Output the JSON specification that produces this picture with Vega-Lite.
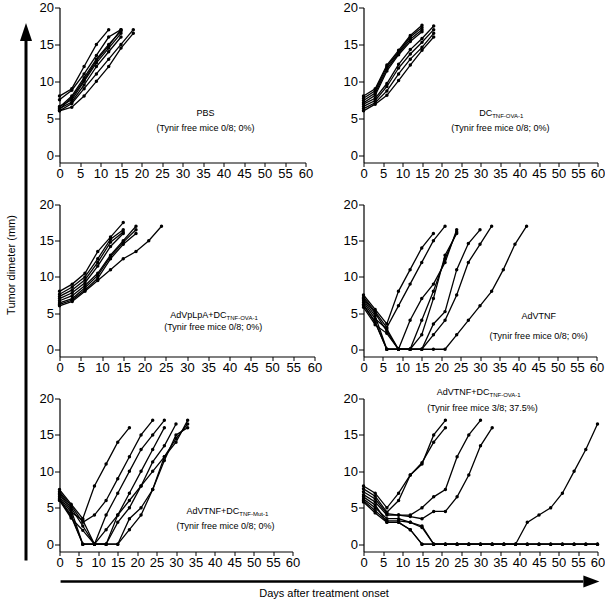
{
"$schema": "https://vega.github.io/schema/vega-lite/v6.json",
"padding": {"left": 5, "top": 1.5, "right": 0, "bottom": 0},
"background": "white",
"config": {
  "font": "Liberation Sans",
  "view": {"stroke": null},
  "axis": {"grid": false, "labelFlush": false, "labelOverlap": false, "domainColor": "black", "tickColor": "black", "labelColor": "black", "labelFont": "Liberation Sans", "labelFontSize": 13, "tickSize": 5, "labelPadding": 1, "domainWidth": 1.2, "tickWidth": 1, "titleColor": "black", "titleFont": "Liberation Sans", "titleFontWeight": "normal", "titleFontSize": 11},
  "axisX": {"tickSize": 4},
  "text": {"font": "Liberation Sans", "color": "black", "fontSize": 9}
},
"datasets": {
"p1": [
{"m":"A","d":0,"s":8.0},{"m":"A","d":3,"s":9.0},{"m":"A","d":6,"s":12.0},{"m":"A","d":9,"s":15.0},{"m":"A","d":12,"s":17.0},
{"m":"B","d":0,"s":7.5},{"m":"B","d":3,"s":8.8},{"m":"B","d":6,"s":11.0},{"m":"B","d":9,"s":13.5},{"m":"B","d":12,"s":16.0},{"m":"B","d":15,"s":17.0},
{"m":"C","d":0,"s":6.5},{"m":"C","d":3,"s":8.0},{"m":"C","d":6,"s":10.5},{"m":"C","d":9,"s":13.0},{"m":"C","d":12,"s":15.0},{"m":"C","d":15,"s":16.8},
{"m":"D","d":0,"s":6.6},{"m":"D","d":3,"s":7.5},{"m":"D","d":6,"s":10.0},{"m":"D","d":9,"s":12.5},{"m":"D","d":12,"s":14.5},{"m":"D","d":15,"s":16.5},
{"m":"E","d":0,"s":6.3},{"m":"E","d":3,"s":7.2},{"m":"E","d":6,"s":9.5},{"m":"E","d":9,"s":12.0},{"m":"E","d":12,"s":14.0},{"m":"E","d":15,"s":16.0},
{"m":"F","d":0,"s":6.0},{"m":"F","d":3,"s":7.0},{"m":"F","d":6,"s":9.0},{"m":"F","d":9,"s":11.0},{"m":"F","d":12,"s":13.0},{"m":"F","d":15,"s":15.0},{"m":"F","d":18,"s":17.0},
{"m":"G","d":0,"s":6.0},{"m":"G","d":3,"s":6.5},{"m":"G","d":6,"s":8.0},{"m":"G","d":9,"s":10.0},{"m":"G","d":12,"s":12.0},{"m":"G","d":15,"s":14.5},{"m":"G","d":18,"s":16.5},
{"m":"H","d":0,"s":6.2},{"m":"H","d":3,"s":7.8},{"m":"H","d":6,"s":10.2},{"m":"H","d":9,"s":12.8},{"m":"H","d":12,"s":14.8},{"m":"H","d":15,"s":17.0}
],
"p2": [
{"m":"U1","d":0,"s":8.0},{"m":"U1","d":3,"s":9.0},{"m":"U1","d":6,"s":12.2},{"m":"U1","d":9,"s":14.2},{"m":"U1","d":12,"s":16.2},{"m":"U1","d":15,"s":17.6},
{"m":"U2","d":0,"s":7.7},{"m":"U2","d":3,"s":8.7},{"m":"U2","d":6,"s":12.0},{"m":"U2","d":9,"s":14.0},{"m":"U2","d":12,"s":16.0},{"m":"U2","d":15,"s":17.3},
{"m":"U3","d":0,"s":7.4},{"m":"U3","d":3,"s":8.4},{"m":"U3","d":6,"s":11.7},{"m":"U3","d":9,"s":13.8},{"m":"U3","d":12,"s":15.7},{"m":"U3","d":15,"s":17.0},
{"m":"U4","d":0,"s":7.1},{"m":"U4","d":3,"s":8.1},{"m":"U4","d":6,"s":11.4},{"m":"U4","d":9,"s":13.6},{"m":"U4","d":12,"s":15.4},{"m":"U4","d":15,"s":16.7},
{"m":"L1","d":0,"s":6.9},{"m":"L1","d":3,"s":7.7},{"m":"L1","d":6,"s":9.7},{"m":"L1","d":9,"s":12.3},{"m":"L1","d":12,"s":14.3},{"m":"L1","d":15,"s":15.8},{"m":"L1","d":18,"s":17.5},
{"m":"L2","d":0,"s":6.6},{"m":"L2","d":3,"s":7.4},{"m":"L2","d":6,"s":9.3},{"m":"L2","d":9,"s":11.8},{"m":"L2","d":12,"s":13.7},{"m":"L2","d":15,"s":15.3},{"m":"L2","d":18,"s":17.0},
{"m":"L3","d":0,"s":6.3},{"m":"L3","d":3,"s":7.1},{"m":"L3","d":6,"s":8.7},{"m":"L3","d":9,"s":11.0},{"m":"L3","d":12,"s":13.0},{"m":"L3","d":15,"s":14.6},{"m":"L3","d":18,"s":16.5},
{"m":"L4","d":0,"s":6.0},{"m":"L4","d":3,"s":6.9},{"m":"L4","d":6,"s":8.1},{"m":"L4","d":9,"s":10.1},{"m":"L4","d":12,"s":12.2},{"m":"L4","d":15,"s":14.2},{"m":"L4","d":18,"s":16.0}
],
"p3": [
{"m":"A","d":0,"s":8.0},{"m":"A","d":3,"s":9.0},{"m":"A","d":6,"s":10.5},{"m":"A","d":9,"s":13.5},{"m":"A","d":12,"s":15.5},{"m":"A","d":15,"s":17.5},
{"m":"B","d":0,"s":7.6},{"m":"B","d":3,"s":8.6},{"m":"B","d":6,"s":10.0},{"m":"B","d":9,"s":12.5},{"m":"B","d":12,"s":15.2},{"m":"B","d":15,"s":16.5},
{"m":"C","d":0,"s":7.3},{"m":"C","d":3,"s":8.2},{"m":"C","d":6,"s":9.6},{"m":"C","d":9,"s":12.0},{"m":"C","d":12,"s":14.8},{"m":"C","d":15,"s":16.2},
{"m":"D","d":0,"s":7.0},{"m":"D","d":3,"s":7.8},{"m":"D","d":6,"s":9.2},{"m":"D","d":9,"s":11.5},{"m":"D","d":12,"s":14.2},{"m":"D","d":15,"s":16.0},
{"m":"E","d":0,"s":6.7},{"m":"E","d":3,"s":7.4},{"m":"E","d":6,"s":8.8},{"m":"E","d":9,"s":10.5},{"m":"E","d":12,"s":13.0},{"m":"E","d":15,"s":15.0},{"m":"E","d":18,"s":17.0},
{"m":"F","d":0,"s":6.4},{"m":"F","d":3,"s":7.0},{"m":"F","d":6,"s":8.5},{"m":"F","d":9,"s":10.2},{"m":"F","d":12,"s":12.8},{"m":"F","d":15,"s":14.8},{"m":"F","d":18,"s":16.5},
{"m":"G","d":0,"s":6.2},{"m":"G","d":3,"s":6.8},{"m":"G","d":6,"s":8.2},{"m":"G","d":9,"s":9.8},{"m":"G","d":12,"s":12.5},{"m":"G","d":15,"s":14.5},{"m":"G","d":18,"s":16.0},
{"m":"H","d":0,"s":6.0},{"m":"H","d":3,"s":6.6},{"m":"H","d":6,"s":8.0},{"m":"H","d":9,"s":9.5},{"m":"H","d":12,"s":11.0},{"m":"H","d":15,"s":12.5},{"m":"H","d":18,"s":13.5},{"m":"H","d":21,"s":15.0},{"m":"H","d":24,"s":17.0}
],
"p4": [
{"m":"L1","d":0,"s":7.5},{"m":"L1","d":3,"s":5.5},{"m":"L1","d":6,"s":3.5},{"m":"L1","d":9,"s":8.0},{"m":"L1","d":12,"s":11.0},{"m":"L1","d":15,"s":14.0},{"m":"L1","d":18,"s":16.0},
{"m":"L2","d":0,"s":7.2},{"m":"L2","d":3,"s":5.2},{"m":"L2","d":6,"s":3.0},{"m":"L2","d":9,"s":6.0},{"m":"L2","d":12,"s":9.0},{"m":"L2","d":15,"s":12.0},{"m":"L2","d":18,"s":15.0},{"m":"L2","d":21,"s":17.0},
{"m":"L3","d":0,"s":7.0},{"m":"L3","d":3,"s":5.0},{"m":"L3","d":6,"s":2.5},{"m":"L3","d":9,"s":0},{"m":"L3","d":12,"s":4.0},{"m":"L3","d":15,"s":7.0},{"m":"L3","d":18,"s":9.0},{"m":"L3","d":21,"s":12.0},{"m":"L3","d":24,"s":16.5},
{"m":"L4","d":0,"s":6.8},{"m":"L4","d":3,"s":4.6},{"m":"L4","d":6,"s":0},{"m":"L4","d":9,"s":0},{"m":"L4","d":12,"s":0},{"m":"L4","d":15,"s":4.0},{"m":"L4","d":18,"s":8.0},{"m":"L4","d":21,"s":12.5},{"m":"L4","d":24,"s":16.2},
{"m":"L5","d":0,"s":6.5},{"m":"L5","d":3,"s":4.2},{"m":"L5","d":6,"s":2.8},{"m":"L5","d":9,"s":0},{"m":"L5","d":12,"s":0},{"m":"L5","d":15,"s":2.0},{"m":"L5","d":18,"s":7.0},{"m":"L5","d":21,"s":13.0},{"m":"L5","d":24,"s":16.0},
{"m":"L6","d":0,"s":6.2},{"m":"L6","d":3,"s":3.8},{"m":"L6","d":6,"s":0},{"m":"L6","d":9,"s":0},{"m":"L6","d":12,"s":0},{"m":"L6","d":15,"s":0},{"m":"L6","d":18,"s":3.5},{"m":"L6","d":21,"s":5.2},{"m":"L6","d":24,"s":11.0},{"m":"L6","d":27,"s":14.6},{"m":"L6","d":30,"s":16.5},
{"m":"L7","d":0,"s":5.8},{"m":"L7","d":3,"s":3.4},{"m":"L7","d":6,"s":2.2},{"m":"L7","d":9,"s":0},{"m":"L7","d":12,"s":0},{"m":"L7","d":15,"s":0},{"m":"L7","d":18,"s":2.0},{"m":"L7","d":21,"s":4.0},{"m":"L7","d":24,"s":7.5},{"m":"L7","d":27,"s":12.0},{"m":"L7","d":30,"s":14.5},{"m":"L7","d":33,"s":17.0},
{"m":"L8","d":0,"s":6.1},{"m":"L8","d":3,"s":3.7},{"m":"L8","d":6,"s":0},{"m":"L8","d":9,"s":0},{"m":"L8","d":12,"s":0},{"m":"L8","d":15,"s":0},{"m":"L8","d":18,"s":0},{"m":"L8","d":21,"s":0},{"m":"L8","d":24,"s":2.0},{"m":"L8","d":27,"s":4.0},{"m":"L8","d":30,"s":6.0},{"m":"L8","d":33,"s":8.0},{"m":"L8","d":36,"s":11.0},{"m":"L8","d":39,"s":14.5},{"m":"L8","d":42,"s":17.0}
],
"p5": [
{"m":"M1","d":0,"s":7.5},{"m":"M1","d":3,"s":5.5},{"m":"M1","d":6,"s":3.5},{"m":"M1","d":9,"s":8.0},{"m":"M1","d":12,"s":11.0},{"m":"M1","d":15,"s":14.0},{"m":"M1","d":18,"s":16.0},
{"m":"M2","d":0,"s":7.2},{"m":"M2","d":3,"s":5.3},{"m":"M2","d":6,"s":3.0},{"m":"M2","d":9,"s":4.0},{"m":"M2","d":12,"s":6.0},{"m":"M2","d":15,"s":9.0},{"m":"M2","d":18,"s":12.0},{"m":"M2","d":21,"s":15.0},{"m":"M2","d":24,"s":17.0},
{"m":"M3","d":0,"s":7.0},{"m":"M3","d":3,"s":5.0},{"m":"M3","d":6,"s":2.5},{"m":"M3","d":9,"s":0},{"m":"M3","d":12,"s":4.0},{"m":"M3","d":15,"s":7.0},{"m":"M3","d":18,"s":10.0},{"m":"M3","d":21,"s":13.0},{"m":"M3","d":24,"s":15.0},{"m":"M3","d":27,"s":17.0},
{"m":"M4","d":0,"s":6.8},{"m":"M4","d":3,"s":4.7},{"m":"M4","d":6,"s":0},{"m":"M4","d":9,"s":0},{"m":"M4","d":12,"s":2.0},{"m":"M4","d":15,"s":4.0},{"m":"M4","d":18,"s":7.0},{"m":"M4","d":21,"s":10.0},{"m":"M4","d":24,"s":13.0},{"m":"M4","d":27,"s":16.0},
{"m":"M5","d":0,"s":6.5},{"m":"M5","d":3,"s":4.4},{"m":"M5","d":6,"s":3.3},{"m":"M5","d":9,"s":0},{"m":"M5","d":12,"s":0},{"m":"M5","d":15,"s":4.0},{"m":"M5","d":18,"s":6.0},{"m":"M5","d":21,"s":8.0},{"m":"M5","d":24,"s":11.3},{"m":"M5","d":27,"s":13.5},{"m":"M5","d":30,"s":16.5},
{"m":"M6","d":0,"s":6.3},{"m":"M6","d":3,"s":4.0},{"m":"M6","d":6,"s":0},{"m":"M6","d":9,"s":0},{"m":"M6","d":12,"s":0},{"m":"M6","d":15,"s":3.0},{"m":"M6","d":18,"s":5.0},{"m":"M6","d":21,"s":8.0},{"m":"M6","d":24,"s":10.0},{"m":"M6","d":27,"s":12.0},{"m":"M6","d":30,"s":14.0},{"m":"M6","d":33,"s":17.0},
{"m":"M7","d":0,"s":6.1},{"m":"M7","d":3,"s":3.8},{"m":"M7","d":6,"s":0},{"m":"M7","d":9,"s":0},{"m":"M7","d":12,"s":0},{"m":"M7","d":15,"s":0},{"m":"M7","d":18,"s":3.5},{"m":"M7","d":21,"s":5.0},{"m":"M7","d":24,"s":7.5},{"m":"M7","d":27,"s":12.0},{"m":"M7","d":30,"s":14.5},{"m":"M7","d":33,"s":16.5},
{"m":"M8","d":0,"s":6.0},{"m":"M8","d":3,"s":3.6},{"m":"M8","d":6,"s":1.9},{"m":"M8","d":9,"s":0},{"m":"M8","d":12,"s":0},{"m":"M8","d":15,"s":0},{"m":"M8","d":18,"s":2.0},{"m":"M8","d":21,"s":4.0},{"m":"M8","d":24,"s":7.5},{"m":"M8","d":27,"s":11.5},{"m":"M8","d":30,"s":15.0},{"m":"M8","d":33,"s":16.0}
],
"p6": [
{"m":"N1","d":0,"s":8.0},{"m":"N1","d":3,"s":7.0},{"m":"N1","d":6,"s":5.0},{"m":"N1","d":9,"s":7.0},{"m":"N1","d":12,"s":9.5},{"m":"N1","d":15,"s":11.0},{"m":"N1","d":18,"s":15.0},{"m":"N1","d":21,"s":17.0},
{"m":"N2","d":0,"s":7.6},{"m":"N2","d":3,"s":6.6},{"m":"N2","d":6,"s":4.4},{"m":"N2","d":9,"s":6.0},{"m":"N2","d":12,"s":9.5},{"m":"N2","d":15,"s":11.2},{"m":"N2","d":18,"s":14.0},{"m":"N2","d":21,"s":16.0},
{"m":"N3","d":0,"s":7.2},{"m":"N3","d":3,"s":6.2},{"m":"N3","d":6,"s":4.2},{"m":"N3","d":9,"s":4.0},{"m":"N3","d":12,"s":4.0},{"m":"N3","d":15,"s":5.0},{"m":"N3","d":18,"s":6.5},{"m":"N3","d":21,"s":7.5},{"m":"N3","d":24,"s":12.0},{"m":"N3","d":27,"s":15.0},{"m":"N3","d":30,"s":17.0},
{"m":"N4","d":0,"s":6.8},{"m":"N4","d":3,"s":5.8},{"m":"N4","d":6,"s":4.0},{"m":"N4","d":9,"s":4.0},{"m":"N4","d":12,"s":3.8},{"m":"N4","d":15,"s":3.5},{"m":"N4","d":18,"s":4.5},{"m":"N4","d":21,"s":4.5},{"m":"N4","d":24,"s":6.5},{"m":"N4","d":27,"s":9.5},{"m":"N4","d":30,"s":13.5},{"m":"N4","d":33,"s":16.0},
{"m":"N5","d":0,"s":6.5},{"m":"N5","d":3,"s":5.4},{"m":"N5","d":6,"s":3.0},{"m":"N5","d":9,"s":3.0},{"m":"N5","d":12,"s":2.0},{"m":"N5","d":15,"s":0},{"m":"N5","d":18,"s":0},{"m":"N5","d":21,"s":0},{"m":"N5","d":24,"s":0},{"m":"N5","d":27,"s":0},{"m":"N5","d":30,"s":0},{"m":"N5","d":33,"s":0},{"m":"N5","d":36,"s":0},{"m":"N5","d":39,"s":0},{"m":"N5","d":42,"s":3.0},{"m":"N5","d":45,"s":4.0},{"m":"N5","d":48,"s":5.0},{"m":"N5","d":51,"s":7.0},{"m":"N5","d":54,"s":10.0},{"m":"N5","d":57,"s":13.0},{"m":"N5","d":60,"s":16.5},
{"m":"N6","d":0,"s":6.2},{"m":"N6","d":3,"s":5.0},{"m":"N6","d":6,"s":3.5},{"m":"N6","d":9,"s":3.5},{"m":"N6","d":12,"s":3.0},{"m":"N6","d":15,"s":2.5},{"m":"N6","d":18,"s":0},{"m":"N6","d":21,"s":0},{"m":"N6","d":24,"s":0},{"m":"N6","d":27,"s":0},{"m":"N6","d":30,"s":0},{"m":"N6","d":33,"s":0},{"m":"N6","d":36,"s":0},{"m":"N6","d":39,"s":0},{"m":"N6","d":42,"s":0},{"m":"N6","d":45,"s":0},{"m":"N6","d":48,"s":0},{"m":"N6","d":51,"s":0},{"m":"N6","d":54,"s":0},{"m":"N6","d":57,"s":0},{"m":"N6","d":60,"s":0},
{"m":"N7","d":0,"s":6.0},{"m":"N7","d":3,"s":4.6},{"m":"N7","d":6,"s":3.2},{"m":"N7","d":9,"s":3.2},{"m":"N7","d":12,"s":3.0},{"m":"N7","d":15,"s":2.3},{"m":"N7","d":18,"s":0},{"m":"N7","d":21,"s":0},{"m":"N7","d":24,"s":0},{"m":"N7","d":27,"s":0},{"m":"N7","d":30,"s":0},{"m":"N7","d":33,"s":0},{"m":"N7","d":36,"s":0},{"m":"N7","d":39,"s":0},{"m":"N7","d":42,"s":0},{"m":"N7","d":45,"s":0},{"m":"N7","d":48,"s":0},{"m":"N7","d":51,"s":0},{"m":"N7","d":54,"s":0},{"m":"N7","d":57,"s":0},{"m":"N7","d":60,"s":0},
{"m":"N8","d":0,"s":5.8},{"m":"N8","d":3,"s":4.3},{"m":"N8","d":6,"s":3.0},{"m":"N8","d":9,"s":3.0},{"m":"N8","d":12,"s":2.0},{"m":"N8","d":15,"s":0},{"m":"N8","d":18,"s":0},{"m":"N8","d":21,"s":0},{"m":"N8","d":24,"s":0},{"m":"N8","d":27,"s":0},{"m":"N8","d":30,"s":0},{"m":"N8","d":33,"s":0},{"m":"N8","d":36,"s":0},{"m":"N8","d":39,"s":0},{"m":"N8","d":42,"s":0},{"m":"N8","d":45,"s":0},{"m":"N8","d":48,"s":0},{"m":"N8","d":51,"s":0},{"m":"N8","d":54,"s":0},{"m":"N8","d":57,"s":0},{"m":"N8","d":60,"s":0}
]
},
"hconcat": [
{
 "width": 12, "height": 553,
 "data": {"values": [{}]},
 "layer": [
  {"mark": {"type": "rule", "strokeWidth": 3, "color": "black"},
   "encoding": {
    "x": {"datum": 0.5, "type": "quantitative", "scale": {"domain": [0, 1]}, "axis": null},
    "y": {"datum": 0, "type": "quantitative", "scale": {"domain": [0, 1]}, "axis": {"title": "Tumor dimeter (mm)", "domain": false, "ticks": false, "labels": false, "titlePadding": 4, "titleY": 257}},
    "y2": {"datum": 0.9394}}},
  {"mark": {"type": "point", "shape": "M0,-1L-0.67,1L0.67,1Z", "filled": true, "color": "black", "size": 324, "opacity": 1},
   "encoding": {"x": {"datum": 0.5, "type": "quantitative", "axis": null}, "y": {"datum": 0.9557, "type": "quantitative", "axis": {"title": "Tumor dimeter (mm)", "domain": false, "ticks": false, "labels": false, "titlePadding": 4, "titleY": 257}}}}
 ]
},
{
 "vconcat": [
  {
   "concat": [
      {"width": 246, "height": 155,
       "layer": [
        {"data": {"name": "p1"}, "mark": {"type": "line", "color": "black", "strokeWidth": 1.3},
         "encoding": {"x": {"field": "d", "type": "quantitative", "scale": {"domain": [0, 60], "nice": false}, "axis": {"values": [0,5,10,15,20,25,30,35,40,45,50,55,60], "title": null}},
                      "y": {"field": "s", "type": "quantitative", "scale": {"domain": [-1, 20], "nice": false}, "axis": {"values": [0,5,10,15,20], "title": null}},
                      "detail": {"field": "m", "type": "nominal"}}},
        {"data": {"name": "p1"}, "mark": {"type": "circle", "color": "black", "size": 12, "opacity": 1},
         "encoding": {"x": {"field": "d", "type": "quantitative", "axis": {"values": [0,5,10,15,20,25,30,35,40,45,50,55,60], "title": null}}, "y": {"field": "s", "type": "quantitative", "axis": {"values": [0,5,10,15,20], "title": null}}}},
        {"data": {"values": [{"t": "PBS"}]}, "mark": {"type": "text"},
         "encoding": {"x": {"datum": 35.6, "type": "quantitative", "axis": {"values": [0,5,10,15,20,25,30,35,40,45,50,55,60], "title": null}}, "y": {"datum": 5.77, "type": "quantitative", "axis": {"values": [0,5,10,15,20], "title": null}}, "text": {"field": "t", "type": "nominal"}}},
        {"data": {"values": [{"t": "(Tynir free mice 0/8; 0%)"}]}, "mark": {"type": "text"},
         "encoding": {"x": {"datum": 35.6, "type": "quantitative", "axis": {"values": [0,5,10,15,20,25,30,35,40,45,50,55,60], "title": null}}, "y": {"datum": 3.74, "type": "quantitative", "axis": {"values": [0,5,10,15,20], "title": null}}, "text": {"field": "t", "type": "nominal"}}}
       ]},
      {"width": 234, "height": 155,
       "layer": [
        {"data": {"name": "p2"}, "mark": {"type": "line", "color": "black", "strokeWidth": 1.3},
         "encoding": {"x": {"field": "d", "type": "quantitative", "scale": {"domain": [0, 60], "nice": false}, "axis": {"values": [0,5,10,15,20,25,30,35,40,45,50,55,60], "title": null}},
                      "y": {"field": "s", "type": "quantitative", "scale": {"domain": [-1, 20], "nice": false}, "axis": {"values": [0,5,10,15,20], "title": null}},
                      "detail": {"field": "m", "type": "nominal"}}},
        {"data": {"name": "p2"}, "mark": {"type": "circle", "color": "black", "size": 12, "opacity": 1},
         "encoding": {"x": {"field": "d", "type": "quantitative", "axis": {"values": [0,5,10,15,20,25,30,35,40,45,50,55,60], "title": null}}, "y": {"field": "s", "type": "quantitative", "axis": {"values": [0,5,10,15,20], "title": null}}}},
        {"data": {"values": [{"t": "DC"}]}, "mark": {"type": "text", "align": "right"},
         "encoding": {"x": {"datum": 33.0, "type": "quantitative", "axis": {"values": [0,5,10,15,20,25,30,35,40,45,50,55,60], "title": null}}, "y": {"datum": 5.64, "type": "quantitative", "axis": {"values": [0,5,10,15,20], "title": null}}, "text": {"field": "t", "type": "nominal"}}},
        {"data": {"values": [{"t": "TNF-OVA-1"}]}, "mark": {"type": "text", "align": "left", "fontSize": 6, "dy": 3},
         "encoding": {"x": {"datum": 33.0, "type": "quantitative", "axis": {"values": [0,5,10,15,20,25,30,35,40,45,50,55,60], "title": null}}, "y": {"datum": 5.64, "type": "quantitative", "axis": {"values": [0,5,10,15,20], "title": null}}, "text": {"field": "t", "type": "nominal"}}},
        {"data": {"values": [{"t": "(Tynir free mice 0/8; 0%)"}]}, "mark": {"type": "text"},
         "encoding": {"x": {"datum": 35.1, "type": "quantitative", "axis": {"values": [0,5,10,15,20,25,30,35,40,45,50,55,60], "title": null}}, "y": {"datum": 3.74, "type": "quantitative", "axis": {"values": [0,5,10,15,20], "title": null}}, "text": {"field": "t", "type": "nominal"}}}
       ]},
      {"width": 255, "height": 152,
       "layer": [
        {"data": {"name": "p3"}, "mark": {"type": "line", "color": "black", "strokeWidth": 1.3},
         "encoding": {"x": {"field": "d", "type": "quantitative", "scale": {"domain": [0, 60], "nice": false}, "axis": {"values": [0,5,10,15,20,25,30,35,40,45,50,55,60], "title": null}},
                      "y": {"field": "s", "type": "quantitative", "scale": {"domain": [-1, 20], "nice": false}, "axis": {"values": [0,5,10,15,20], "title": null}},
                      "detail": {"field": "m", "type": "nominal"}}},
        {"data": {"name": "p3"}, "mark": {"type": "circle", "color": "black", "size": 12, "opacity": 1},
         "encoding": {"x": {"field": "d", "type": "quantitative", "axis": {"values": [0,5,10,15,20,25,30,35,40,45,50,55,60], "title": null}}, "y": {"field": "s", "type": "quantitative", "axis": {"values": [0,5,10,15,20], "title": null}}}},
        {"data": {"values": [{"t": "AdVpLpA+DC"}]}, "mark": {"type": "text", "align": "right"},
         "encoding": {"x": {"datum": 39.3, "type": "quantitative", "axis": {"values": [0,5,10,15,20,25,30,35,40,45,50,55,60], "title": null}}, "y": {"datum": 4.8, "type": "quantitative", "axis": {"values": [0,5,10,15,20], "title": null}}, "text": {"field": "t", "type": "nominal"}}},
        {"data": {"values": [{"t": "TNF-OVA-1"}]}, "mark": {"type": "text", "align": "left", "fontSize": 6, "dy": 3},
         "encoding": {"x": {"datum": 39.3, "type": "quantitative", "axis": {"values": [0,5,10,15,20,25,30,35,40,45,50,55,60], "title": null}}, "y": {"datum": 4.8, "type": "quantitative", "axis": {"values": [0,5,10,15,20], "title": null}}, "text": {"field": "t", "type": "nominal"}}},
        {"data": {"values": [{"t": "(Tynir free mice 0/8; 0%)"}]}, "mark": {"type": "text"},
         "encoding": {"x": {"datum": 36.2, "type": "quantitative", "axis": {"values": [0,5,10,15,20,25,30,35,40,45,50,55,60], "title": null}}, "y": {"datum": 3.1, "type": "quantitative", "axis": {"values": [0,5,10,15,20], "title": null}}, "text": {"field": "t", "type": "nominal"}}}
       ]},
      {"width": 233, "height": 152,
       "layer": [
        {"data": {"name": "p4"}, "mark": {"type": "line", "color": "black", "strokeWidth": 1.3},
         "encoding": {"x": {"field": "d", "type": "quantitative", "scale": {"domain": [0, 60], "nice": false}, "axis": {"values": [0,5,10,15,20,25,30,35,40,45,50,55,60], "title": null}},
                      "y": {"field": "s", "type": "quantitative", "scale": {"domain": [-1, 20], "nice": false}, "axis": {"values": [0,5,10,15,20], "title": null}},
                      "detail": {"field": "m", "type": "nominal"}}},
        {"data": {"name": "p4"}, "mark": {"type": "circle", "color": "black", "size": 12, "opacity": 1},
         "encoding": {"x": {"field": "d", "type": "quantitative", "axis": {"values": [0,5,10,15,20,25,30,35,40,45,50,55,60], "title": null}}, "y": {"field": "s", "type": "quantitative", "axis": {"values": [0,5,10,15,20], "title": null}}}},
        {"data": {"values": [{"t": "AdVTNF"}]}, "mark": {"type": "text"},
         "encoding": {"x": {"datum": 45.1, "type": "quantitative", "axis": {"values": [0,5,10,15,20,25,30,35,40,45,50,55,60], "title": null}}, "y": {"datum": 4.53, "type": "quantitative", "axis": {"values": [0,5,10,15,20], "title": null}}, "text": {"field": "t", "type": "nominal"}}},
        {"data": {"values": [{"t": "(Tynir free mice 0/8; 0%)"}]}, "mark": {"type": "text"},
         "encoding": {"x": {"datum": 45.1, "type": "quantitative", "axis": {"values": [0,5,10,15,20,25,30,35,40,45,50,55,60], "title": null}}, "y": {"datum": 1.9, "type": "quantitative", "axis": {"values": [0,5,10,15,20], "title": null}}, "text": {"field": "t", "type": "nominal"}}}
       ]},
      {"width": 233, "height": 153,
       "layer": [
        {"data": {"name": "p5"}, "mark": {"type": "line", "color": "black", "strokeWidth": 1.3},
         "encoding": {"x": {"field": "d", "type": "quantitative", "scale": {"domain": [0, 60], "nice": false}, "axis": {"values": [0,5,10,15,20,25,30,35,40,45,50,55,60], "title": null}},
                      "y": {"field": "s", "type": "quantitative", "scale": {"domain": [-1, 20], "nice": false}, "axis": {"values": [0,5,10,15,20], "title": null}},
                      "detail": {"field": "m", "type": "nominal"}}},
        {"data": {"name": "p5"}, "mark": {"type": "circle", "color": "black", "size": 12, "opacity": 1},
         "encoding": {"x": {"field": "d", "type": "quantitative", "axis": {"values": [0,5,10,15,20,25,30,35,40,45,50,55,60], "title": null}}, "y": {"field": "s", "type": "quantitative", "axis": {"values": [0,5,10,15,20], "title": null}}}},
        {"data": {"values": [{"t": "AdVTNF+DC"}]}, "mark": {"type": "text", "align": "right"},
         "encoding": {"x": {"datum": 46.3, "type": "quantitative", "axis": {"values": [0,5,10,15,20,25,30,35,40,45,50,55,60], "title": null}}, "y": {"datum": 4.53, "type": "quantitative", "axis": {"values": [0,5,10,15,20], "title": null}}, "text": {"field": "t", "type": "nominal"}}},
        {"data": {"values": [{"t": "TNF-Mut-1"}]}, "mark": {"type": "text", "align": "left", "fontSize": 6, "dy": 3},
         "encoding": {"x": {"datum": 46.3, "type": "quantitative", "axis": {"values": [0,5,10,15,20,25,30,35,40,45,50,55,60], "title": null}}, "y": {"datum": 4.53, "type": "quantitative", "axis": {"values": [0,5,10,15,20], "title": null}}, "text": {"field": "t", "type": "nominal"}}},
        {"data": {"values": [{"t": "(Tynir free mice 0/8; 0%)"}]}, "mark": {"type": "text"},
         "encoding": {"x": {"datum": 42.75, "type": "quantitative", "axis": {"values": [0,5,10,15,20,25,30,35,40,45,50,55,60], "title": null}}, "y": {"datum": 2.47, "type": "quantitative", "axis": {"values": [0,5,10,15,20], "title": null}}, "text": {"field": "t", "type": "nominal"}}}
       ]},
      {"width": 234, "height": 153,
       "layer": [
        {"data": {"name": "p6"}, "mark": {"type": "line", "color": "black", "strokeWidth": 1.3},
         "encoding": {"x": {"field": "d", "type": "quantitative", "scale": {"domain": [0, 60], "nice": false}, "axis": {"values": [0,5,10,15,20,25,30,35,40,45,50,55,60], "title": null}},
                      "y": {"field": "s", "type": "quantitative", "scale": {"domain": [-1, 20], "nice": false}, "axis": {"values": [0,5,10,15,20], "title": null}},
                      "detail": {"field": "m", "type": "nominal"}}},
        {"data": {"name": "p6"}, "mark": {"type": "circle", "color": "black", "size": 12, "opacity": 1},
         "encoding": {"x": {"field": "d", "type": "quantitative", "axis": {"values": [0,5,10,15,20,25,30,35,40,45,50,55,60], "title": null}}, "y": {"field": "s", "type": "quantitative", "axis": {"values": [0,5,10,15,20], "title": null}}}},
        {"data": {"values": [{"t": "AdVTNF+DC"}]}, "mark": {"type": "text", "align": "right"},
         "encoding": {"x": {"datum": 32.3, "type": "quantitative", "axis": {"values": [0,5,10,15,20,25,30,35,40,45,50,55,60], "title": null}}, "y": {"datum": 20.92, "type": "quantitative", "axis": {"values": [0,5,10,15,20], "title": null}}, "text": {"field": "t", "type": "nominal"}}},
        {"data": {"values": [{"t": "TNF-OVA-1"}]}, "mark": {"type": "text", "align": "left", "fontSize": 6, "dy": 3},
         "encoding": {"x": {"datum": 32.3, "type": "quantitative", "axis": {"values": [0,5,10,15,20,25,30,35,40,45,50,55,60], "title": null}}, "y": {"datum": 20.92, "type": "quantitative", "axis": {"values": [0,5,10,15,20], "title": null}}, "text": {"field": "t", "type": "nominal"}}},
        {"data": {"values": [{"t": "(Tynir free mice 3/8; 37.5%)"}]}, "mark": {"type": "text"},
         "encoding": {"x": {"datum": 30.5, "type": "quantitative", "axis": {"values": [0,5,10,15,20,25,30,35,40,45,50,55,60], "title": null}}, "y": {"datum": 18.72, "type": "quantitative", "axis": {"values": [0,5,10,15,20], "title": null}}, "text": {"field": "t", "type": "nominal"}}}
       ]}
   ],
   "columns": 2, "align": "each", "bounds": "flush", "spacing": {"row": 42, "column": 49}
  },
  {
   "width": 540, "height": 1,
   "data": {"values": [{}]},
   "layer": [
    {"mark": {"type": "rule", "strokeWidth": 2.5, "color": "black"},
     "encoding": {
      "x": {"datum": 0.002, "type": "quantitative", "scale": {"domain": [0, 1]}, "axis": {"title": "Days after treatment onset", "domain": false, "ticks": false, "labels": false, "titlePadding": 6, "titleX": 264}},
      "x2": {"datum": 0.97},
      "y": {"datum": 0, "type": "quantitative", "scale": {"domain": [0, 1]}, "axis": null}}},
    {"mark": {"type": "point", "shape": "M1,0L-1,-0.75L-1,0.75Z", "filled": true, "color": "black", "size": 256, "opacity": 1},
     "encoding": {"x": {"datum": 0.985, "type": "quantitative", "axis": {"title": "Days after treatment onset", "domain": false, "ticks": false, "labels": false, "titlePadding": 6, "titleX": 264}}, "y": {"datum": 0, "type": "quantitative", "axis": null}}}
   ]
  }
 ],
 "spacing": 6, "bounds": "full"
}
],
"spacing": 5.5, "bounds": "full"
}
